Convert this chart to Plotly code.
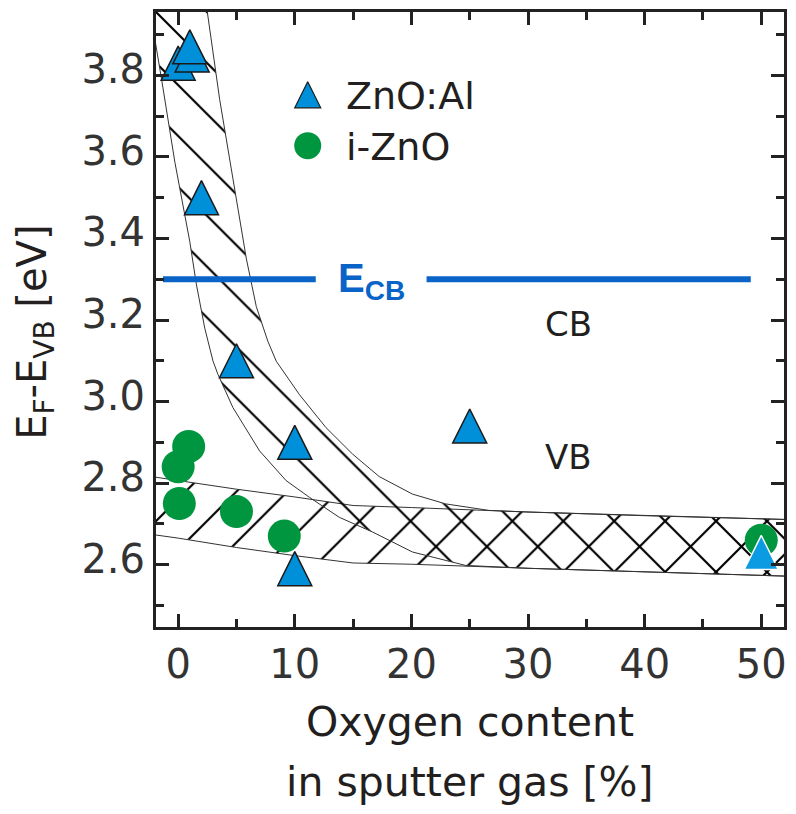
import plotly.graph_objects as go

# ---------------- data ----------------
znoal_x = [0, 1.2, 1.0, 2, 5, 10, 10, 25, 50]
znoal_y = [3.83, 3.85, 3.87, 3.50, 3.10, 2.90, 2.59, 2.94, 2.63]

izno_x = [0.9, 0, 0.1, 5, 9.1, 50]
izno_y = [2.89, 2.84, 2.75, 2.73, 2.67, 2.66]

ecb_level = 3.3
ecb_seg1_x = [-1.3, 11.8]
ecb_seg2_x = [21.3, 49.1]

# valence-band (i-ZnO) band, nearly flat
vb_band_x = [-3, 0, 5, 10, 15, 20, 30, 40, 53]
vb_band_upper = [2.819, 2.806, 2.785, 2.766, 2.745, 2.740, 2.729, 2.720, 2.710]
vb_band_lower = [2.677, 2.665, 2.642, 2.622, 2.604, 2.601, 2.591, 2.582, 2.571]

# Fermi-level band (ZnO:Al), steep decay
fl_upper_x = [2.28, 2.5, 3.56, 4.70, 5.85, 6.70, 7.69, 8.41, 10.40, 12.68, 14.96, 17.24, 20.09, 22.94, 26.64]
fl_upper_y = [4.0, 3.955, 3.741, 3.546, 3.35, 3.233, 3.148, 3.099, 3.017, 2.936, 2.871, 2.816, 2.773, 2.749, 2.733]
fl_lower_x = [-2.5, -1.42, -0.28, 0.43, 1.0, 1.57, 2.28, 2.99, 3.42, 4.70, 6.98, 9.26, 11.26, 13.82, 16.67, 20.09, 22.94, 24.65]
fl_lower_y = [3.975, 3.79, 3.587, 3.481, 3.392, 3.286, 3.180, 3.099, 3.066, 2.985, 2.879, 2.806, 2.765, 2.716, 2.680, 2.631, 2.611, 2.598]

x_ticks = [0, 10, 20, 30, 40, 50]
y_ticks = [2.6, 2.8, 3.0, 3.2, 3.4, 3.6, 3.8]

# ---------------- styles ----------------
BLUE_TRI = "#0090d9"
GREEN = "#00963f"
ECB_BLUE = "#0a64c8"
AXIS = "#222222"
TXT = "#231f20"
FONT = "DejaVu Sans"
BOLDFONT = "Liberation Sans"
TRI_SIZE = 34
CIRC_SIZE = 33
HATCH = dict(size=36, solidity=0.06, fgcolor="#000000", fgopacity=1,
             bgcolor="rgba(0,0,0,0)")

fig = go.Figure()

# VB band polygon
vb_poly_x = vb_band_x + vb_band_x[::-1]
vb_poly_y = vb_band_upper + vb_band_lower[::-1]
fig.add_trace(go.Scatter(
    x=vb_poly_x, y=vb_poly_y, mode="lines", fill="toself",
    fillcolor="rgba(0,0,0,0)", fillpattern=dict(shape="/", **HATCH),
    line=dict(color="#333333", width=1), hoverinfo="skip", showlegend=False))

# Fermi-level band polygon (merges into VB band at right)
tail_up = [(x, y) for x, y in zip(vb_band_x, vb_band_upper) if x > fl_upper_x[-1]]
tail_lo = [(x, y) for x, y in zip(vb_band_x, vb_band_lower) if x > fl_lower_x[-1]]
fl_poly_x = fl_upper_x + [p[0] for p in tail_up] + [p[0] for p in tail_lo[::-1]] + fl_lower_x[::-1]
fl_poly_y = fl_upper_y + [p[1] for p in tail_up] + [p[1] for p in tail_lo[::-1]] + fl_lower_y[::-1]
fig.add_trace(go.Scatter(
    x=fl_poly_x, y=fl_poly_y, mode="lines", fill="toself",
    fillcolor="rgba(0,0,0,0)", fillpattern=dict(shape="\\", **HATCH),
    line=dict(color="#333333", width=1), hoverinfo="skip", showlegend=False))

# E_CB line
fig.add_trace(go.Scatter(
    x=ecb_seg1_x + [None] + ecb_seg2_x,
    y=[ecb_level] * 2 + [None] + [ecb_level] * 2,
    mode="lines", line=dict(color=ECB_BLUE, width=6),
    hoverinfo="skip", showlegend=False))

# i-ZnO circles
fig.add_trace(go.Scatter(
    x=izno_x, y=izno_y, mode="markers", name="i-ZnO",
    marker=dict(symbol="circle", size=CIRC_SIZE, color=GREEN, line=dict(width=0)),
    showlegend=False))

# ZnO:Al triangles (arrow shape gives equal width/height)
line_cols = ["#1a1a1a"] * (len(znoal_x) - 1) + ["#ffffff"]
fill_cols = [BLUE_TRI] * (len(znoal_x) - 1) + ["#0a9be2"]
fig.add_trace(go.Scatter(
    x=znoal_x, y=znoal_y, mode="markers", name="ZnO:Al",
    marker=dict(symbol="arrow-down", angle=180, standoff=TRI_SIZE / 2,
                size=TRI_SIZE, color=fill_cols,
                line=dict(width=1.5, color=line_cols)),
    showlegend=False))

# manual legend markers on an overlay axis with unit range
LEG_X = 0.2416
LEG_Y = [0.8654, 0.7827]
fig.add_trace(go.Scatter(
    x=[LEG_X], y=[LEG_Y[0]], xaxis="x2", yaxis="y2", mode="markers",
    marker=dict(symbol="arrow-down", angle=180, standoff=13, size=26,
                color=BLUE_TRI, line=dict(width=1.2, color="#1a1a1a")),
    hoverinfo="skip", showlegend=False))
fig.add_trace(go.Scatter(
    x=[LEG_X], y=[LEG_Y[1]], xaxis="x2", yaxis="y2", mode="markers",
    marker=dict(symbol="circle", size=27, color=GREEN, line=dict(width=0)),
    hoverinfo="skip", showlegend=False))

annotations = [
    dict(x=0.30, y=0.8636, xref="paper", yref="paper", text="ZnO:Al",
         xanchor="left", yanchor="middle", showarrow=False,
         font=dict(family=FONT, size=38, color=TXT)),
    dict(x=0.30, y=0.7800, xref="paper", yref="paper", text="i-ZnO",
         xanchor="left", yanchor="middle", showarrow=False,
         font=dict(family=FONT, size=38, color=TXT)),
    dict(x=(ecb_seg1_x[1] + ecb_seg2_x[0]) / 2, y=ecb_level, xref="x", yref="y",
         text="<b>E<sub>CB</sub></b>", xanchor="center", yanchor="middle",
         showarrow=False, yshift=-2,
         font=dict(family=BOLDFONT, size=40, color=ECB_BLUE)),
    dict(x=33.5, y=3.191, xref="x", yref="y", text="CB", showarrow=False,
         xanchor="center", yanchor="middle",
         font=dict(family=FONT, size=34, color=TXT)),
    dict(x=33.5, y=2.864, xref="x", yref="y", text="VB", showarrow=False,
         xanchor="center", yanchor="middle",
         font=dict(family=FONT, size=34, color=TXT)),
    # x-axis title (two lines, wider line spacing than plotly's default)
    dict(x=0.5, y=-0.1537, xref="paper", yref="paper", text="Oxygen content",
         xanchor="center", yanchor="middle", showarrow=False,
         font=dict(family=FONT, size=41, color=TXT)),
    dict(x=0.5, y=-0.2525, xref="paper", yref="paper", text="in sputter gas [%]",
         xanchor="center", yanchor="middle", showarrow=False,
         font=dict(family=FONT, size=41, color=TXT)),
    # y-axis title
    dict(x=-0.192, y=0.479, xref="paper", yref="paper",
         text="E<sub>F</sub>-E<sub>VB</sub> [eV]", textangle=-90,
         xanchor="center", yanchor="middle", showarrow=False,
         font=dict(family=FONT, size=40, color=TXT)),
]

axis_common = dict(
    showline=True, linewidth=3, linecolor=AXIS, mirror="ticks",
    ticks="inside", ticklen=13, tickwidth=3, tickcolor=AXIS,
    showgrid=False, zeroline=False,
    tickfont=dict(family=FONT, size=40, color="#333333"),
)

fig.update_layout(
    width=796, height=814,
    margin=dict(l=156, r=10, t=9, b=187),
    paper_bgcolor="white", plot_bgcolor="white",
    showlegend=False,
    xaxis=dict(range=[-1.9, 51.95], tickvals=x_ticks,
               minor=dict(dtick=5, tick0=0, ticks="inside", ticklen=8, tickwidth=3,
                          tickcolor=AXIS),
               **axis_common),
    yaxis=dict(range=[2.447, 3.9555], tickvals=y_ticks, tickformat=".1f",
               minor=dict(dtick=0.1, tick0=2.5, ticks="inside", ticklen=8, tickwidth=3,
                          tickcolor=AXIS),
               ticklabelshift=-6,
               **axis_common),
    xaxis2=dict(range=[0, 1], overlaying="x", visible=False),
    yaxis2=dict(range=[0, 1], overlaying="y", visible=False),
    annotations=annotations,
)

fig.write_html("out.html")
